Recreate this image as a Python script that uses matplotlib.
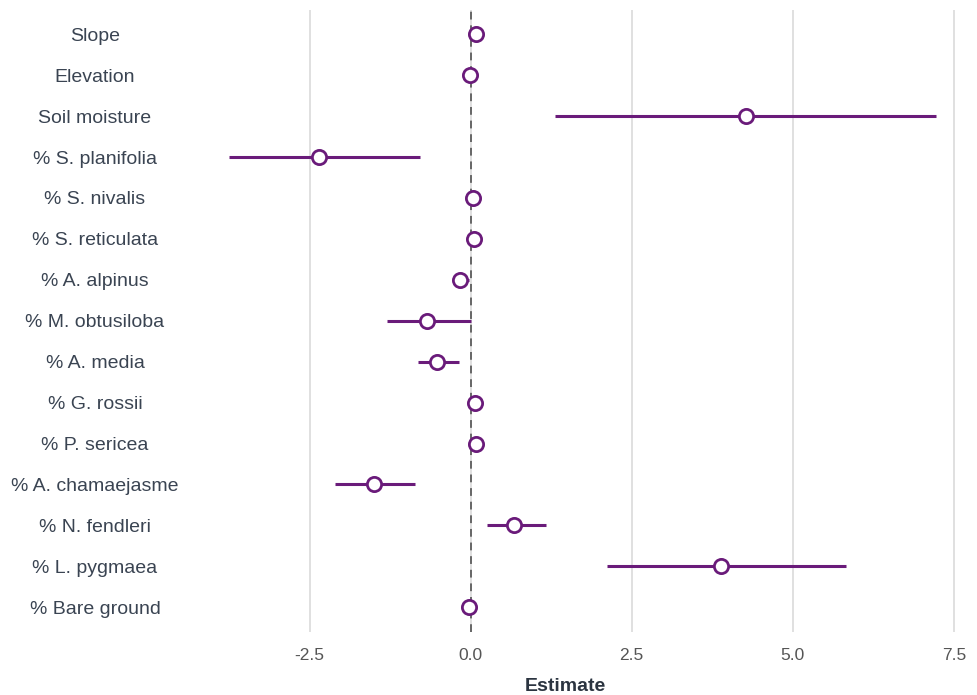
import numpy as np
import matplotlib.pyplot as plt

plt.rcParams['font.family'] = ['Liberation Sans', 'DejaVu Sans']

terms = ["Slope", "Elevation", "Soil moisture", "% S. planifolia", "% S. nivalis",
         "% S. reticulata", "% A. alpinus", "% M. obtusiloba", "% A. media",
         "% G. rossii", "% P. sericea", "% A. chamaejasme", "% N. fendleri",
         "% L. pygmaea", "% Bare ground"]
estimate = [0.08, -0.01, 4.27, -2.36, 0.03, 0.05, -0.16, -0.68, -0.52,
            0.07, 0.08, -1.50, 0.67, 3.89, -0.02]
conf_low = [0.06, -0.03, 1.31, -3.75, 0.01, 0.03, -0.27, -1.30, -0.82,
            0.05, 0.06, -2.10, 0.25, 2.12, -0.04]
conf_high = [0.10, 0.01, 7.22, -0.78, 0.05, 0.07, -0.02, 0.00, -0.18,
             0.09, 0.10, -0.86, 1.17, 5.83, 0.00]
xticks = [-2.5, 0.0, 2.5, 5.0, 7.5]

purple = '#6a1b7a'

fig = plt.figure(figsize=(9.78, 6.95), dpi=100)
ax = fig.add_axes([0.198, 0.091, 0.795, 0.895])

y = np.arange(len(terms))
ax.hlines(y, conf_low, conf_high, color=purple, lw=2.2, zorder=3)
ax.axvline(0, color='#666666', lw=1.4, ls=(0, (4, 3)), zorder=2)
ax.scatter(estimate, y, s=105, facecolor='white', edgecolor=purple,
           linewidth=2.0, zorder=4)

ax.set_xlim(-4.3, 7.77)
ax.set_ylim(len(terms) - 0.4, -0.6)
ax.set_xticks(xticks)
ax.set_xticklabels([f"{t:.1f}" for t in xticks], fontsize=12.5, color='#555555')
ax.set_yticks(y)
ax.set_yticklabels(terms, fontsize=14, color='#3a4452', ha='center')
ax.tick_params(axis='y', length=0, pad=71)
ax.tick_params(axis='x', length=0, pad=12)
ax.grid(axis='x', color='#dddddd', lw=1.3)
ax.set_axisbelow(True)
for s in ax.spines.values():
    s.set_visible(False)

ax.set_xlabel("Estimate", fontsize=14, fontweight='bold', color='#2b3440')
ax.xaxis.set_label_coords(0.478, -0.075)

fig.savefig("out.png", dpi=100)
